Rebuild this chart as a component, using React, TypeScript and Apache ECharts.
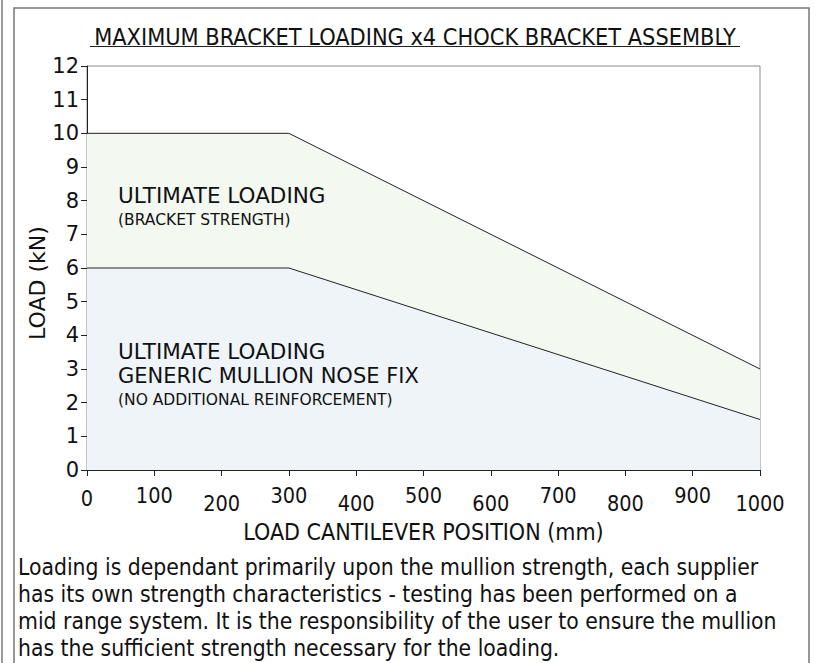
import React, { useEffect, useRef } from "react";
import * as echarts from "echarts";

const title = "MAXIMUM BRACKET LOADING x4 CHOCK BRACKET ASSEMBLY";
const xName = "LOAD CANTILEVER POSITION (mm)";
const yName = "LOAD (kN)";
const bracketX = [0, 300, 1000];
const bracketLoad = [10, 10, 3];
const mullionX = [0, 300, 1000];
const mullionLoad = [6, 6, 1.5];
const noteLines = [
  "Loading is dependant primarily upon the mullion strength, each supplier",
  "has its own strength characteristics - testing has been performed on a",
  "mid range system. It is the responsibility of the user to ensure the mullion",
  "has the sufficient strength necessary for the loading.",
];
const bracketLabel = ["ULTIMATE LOADING", "(BRACKET STRENGTH)"];
const mullionLabel = ["ULTIMATE LOADING", "GENERIC MULLION NOSE FIX", "(NO ADDITIONAL REINFORCEMENT)"];

const COND = '"DejaVu Sans Condensed", "DejaVu Sans", sans-serif';
const SANS = '"DejaVu Sans", Verdana, sans-serif';

export default function App() {
  const ref = useRef<HTMLDivElement>(null);
  useEffect(() => {
    if (!ref.current) return;
    const chart = echarts.init(ref.current, null, { renderer: "svg" });
    const option: any = {
      animation: false,
      backgroundColor: "#ffffff",
      grid: {
        left: 87,
        right: 56,
        top: 66,
        bottom: 193,
        show: true,
        borderColor: "#8a8a8a",
        borderWidth: 1,
        backgroundColor: "transparent",
      },
      xAxis: {
        type: "value",
        min: 0,
        max: 1000,
        interval: 100,
        name: xName,
        nameLocation: "middle",
        nameGap: 50,
        nameMoveOverlap: false,
        nameTextStyle: { fontFamily: COND, fontSize: 23, color: "#111" },
        axisLine: { show: true, onZero: false, lineStyle: { color: "#222", width: 1 } },
        axisTick: { show: true, length: 6, lineStyle: { color: "#222" } },
        splitLine: { show: false },
        axisLabel: {
          fontFamily: COND,
          fontSize: 21.5,
          color: "#111",
          margin: 14,
          formatter: (v: number) =>
            v === 0 ? `{mid|${v}}` : v % 200 === 0 ? `{lo|${v}}` : `{hi|${v}}`,
          rich: {
            hi: { fontFamily: COND, fontSize: 21.5, color: "#111", padding: [0, 0, 7, 0] },
            mid: { fontFamily: COND, fontSize: 21.5, color: "#111", padding: [3, 0, 4, 0] },
            lo: { fontFamily: COND, fontSize: 21.5, color: "#111", padding: [8, 0, 0, 0] },
          },
        },
      },
      yAxis: {
        type: "value",
        min: 0,
        max: 12,
        interval: 1,
        name: yName,
        nameLocation: "middle",
        nameGap: 39,
        nameMoveOverlap: false,
        nameTextStyle: { fontFamily: SANS, fontSize: 22, color: "#111", padding: [0, 30, 0, 0] },
        axisLine: { show: true, lineStyle: { color: "#222", width: 1 } },
        axisTick: { show: true, length: 6, lineStyle: { color: "#222" } },
        splitLine: { show: false },
        axisLabel: { fontFamily: SANS, fontSize: 21, color: "#111", margin: 8 },
      },
      series: [
        {
          type: "line",
          data: bracketX.map((x, i) => [x, bracketLoad[i]]),
          symbol: "none",
          lineStyle: { color: "#222", width: 1 },
          areaStyle: { color: "#f3f8f0", opacity: 1 },
          z: 2,
        },
        {
          type: "line",
          data: mullionX.map((x, i) => [x, mullionLoad[i]]),
          symbol: "none",
          lineStyle: { color: "#222", width: 1 },
          areaStyle: { color: "#eff4f9", opacity: 1 },
          z: 3,
        },
      ],
      graphic: [
        { type: "line", shape: { x1: 2, y1: 0, x2: 2, y2: 663 }, style: { stroke: "#777", lineWidth: 1.5 } },
        { type: "rect", shape: { x: 14, y: 8, width: 795, height: 670 }, style: { stroke: "#777", lineWidth: 1.5, fill: "none" } },
        {
          type: "text",
          x: 415,
          y: 36,
          style: { text: title, fontFamily: COND, fontSize: 23.3, fill: "#111", align: "center", verticalAlign: "middle" },
        },
        { type: "line", shape: { x1: 90, y1: 46.5, x2: 740, y2: 46.5 }, style: { stroke: "#222", lineWidth: 1 } },
        {
          type: "text",
          x: 118,
          y: 195,
          z: 10,
          style: { text: bracketLabel[0], fontFamily: SANS, fontSize: 21.5, fill: "#111", verticalAlign: "middle" },
        },
        {
          type: "text",
          x: 118,
          y: 220,
          z: 10,
          style: { text: bracketLabel[1], fontFamily: SANS, fontSize: 15.5, fill: "#111", verticalAlign: "middle" },
        },
        {
          type: "text",
          x: 118,
          y: 351,
          z: 10,
          style: { text: mullionLabel[0], fontFamily: SANS, fontSize: 21.5, fill: "#111", verticalAlign: "middle" },
        },
        {
          type: "text",
          x: 118,
          y: 376,
          z: 10,
          style: { text: mullionLabel[1], fontFamily: SANS, fontSize: 21, fill: "#111", verticalAlign: "middle" },
        },
        {
          type: "text",
          x: 118,
          y: 400,
          z: 10,
          style: { text: mullionLabel[2], fontFamily: SANS, fontSize: 15.5, fill: "#111", verticalAlign: "middle" },
        },
        {
          type: "text",
          x: 18,
          y: 553,
          style: {
            text: noteLines.join("\n"),
            fontFamily: COND,
            fontSize: 22.7,
            lineHeight: 27,
            fill: "#111",
            verticalAlign: "top",
          },
        },
      ],
    };
    chart.setOption(option);
    return () => chart.dispose();
  }, []);
  return <div ref={ref} style={{ position: "fixed", left: 0, top: 0, width: 816, height: 663 }} />;
}
